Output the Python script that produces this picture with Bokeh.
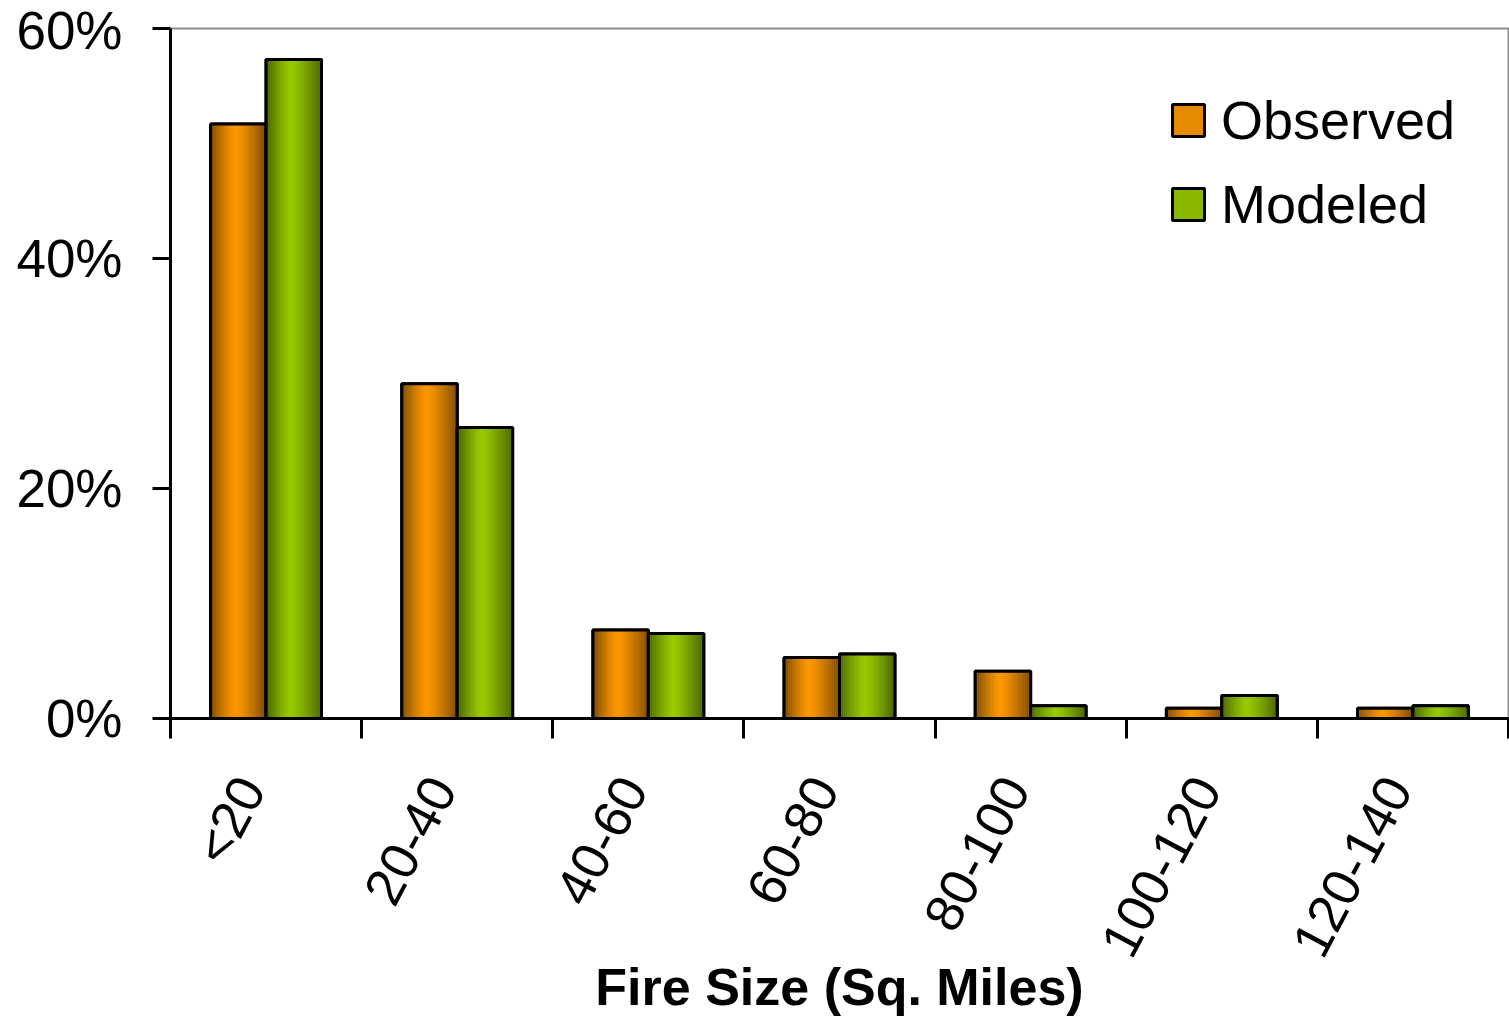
import math

from bokeh.embed import file_html
from bokeh.models import FixedTicker, Legend, LegendItem, PrintfTickFormatter, Range1d
from bokeh.plotting import figure
from bokeh.resources import INLINE

# Share of fires in each size class (percent)
categories = ["<20", "20-40", "40-60", "60-80", "80-100", "100-120", "120-140"]
observed = [51.7, 29.1, 7.7, 5.3, 4.1, 0.9, 0.9]
modeled = [57.3, 25.3, 7.4, 5.6, 1.1, 2.0, 1.1]
y_ticks = [0, 20, 40, 60]

FONT = "Liberation Sans"
BAR_W = 0.29
N_STRIPS = 28
ORANGE = (255, 153, 0)
GREEN = (153, 204, 0)
LABEL_SHIFT = -0.08  # nudges rotated category labels so their ends sit on the centre


def shade(rgb, f):
    return "#%02x%02x%02x" % tuple(max(0, min(255, int(round(c * f)))) for c in rgb)


def profile(t):
    """Brightness across a bar: dark edges, bright middle."""
    peak = 0.45
    d = (peak - t) / peak if t < peak else (t - peak) / (1 - peak)
    return 1 - 0.52 * d ** 1.25


p = figure(
    width=1509, height=1018,
    x_range=Range1d(-0.5, len(categories) - 0.5),
    y_range=Range1d(0, 60),
    output_backend="svg", toolbar_location=None,
    min_border_left=170, min_border_right=1,
    min_border_top=28, min_border_bottom=300,
)
p.background_fill_color = "white"
p.border_fill_color = "white"
p.outline_line_color = "#8c8c8c"
p.outline_line_width = 2
p.grid.visible = False


def draw_series(values, offset, rgb):
    centers = [i + offset for i in range(len(values))]
    base = p.vbar(x=centers, top=values, bottom=0, width=BAR_W,
                  fill_color=shade(rgb, 0.9), line_color="black", line_width=3)
    xs, tops, cols = [], [], []
    for c, v in zip(centers, values):
        for k in range(N_STRIPS):
            t = (k + 0.5) / N_STRIPS
            xs.append(c - BAR_W / 2 + t * BAR_W)
            tops.append(v)
            cols.append(shade(rgb, profile(t)))
    p.vbar(x=xs, top=tops, bottom=0, width=BAR_W / N_STRIPS * 1.08,
           fill_color=cols, line_color=None)
    p.vbar(x=centers, top=values, bottom=0, width=BAR_W,
           fill_alpha=0, line_color="black", line_width=3)
    return base


obs_r = draw_series(observed, -BAR_W / 2, ORANGE)
mod_r = draw_series(modeled, BAR_W / 2, GREEN)

# x axis: labels at category centres, ticks between categories
label_pos = [i + LABEL_SHIFT for i in range(len(categories))]
xa = p.xaxis[0]
xa.ticker = FixedTicker(ticks=label_pos,
                        minor_ticks=[i - 0.5 for i in range(len(categories) + 1)])
xa.major_label_overrides = {pos: c for pos, c in zip(label_pos, categories)}
xa.major_tick_out = 0
xa.major_tick_in = 0
xa.minor_tick_out = 20
xa.minor_tick_in = 0
xa.minor_tick_line_color = "black"
xa.minor_tick_line_width = 3
xa.axis_line_color = "black"
xa.axis_line_width = 3
xa.major_label_orientation = math.radians(62)
xa.major_label_text_font = FONT
xa.major_label_text_font_size = "53px"
xa.major_label_text_color = "black"
xa.major_label_standoff = 42
xa.axis_label = "Fire Size (Sq. Miles)"
xa.axis_label_text_font = FONT
xa.axis_label_text_font_size = "52px"
xa.axis_label_text_font_style = "bold"
xa.axis_label_text_color = "black"
xa.axis_label_standoff = -25

# y axis
ya = p.yaxis[0]
ya.ticker = FixedTicker(ticks=y_ticks)
ya.formatter = PrintfTickFormatter(format="%d%%")
ya.major_tick_out = 18
ya.major_tick_in = 0
ya.minor_tick_out = 0
ya.minor_tick_in = 0
ya.major_tick_line_color = "black"
ya.major_tick_line_width = 3
ya.axis_line_color = "black"
ya.axis_line_width = 3
ya.major_label_text_font = FONT
ya.major_label_text_font_size = "53px"
ya.major_label_text_color = "black"
ya.major_label_standoff = 30

legend = Legend(
    items=[LegendItem(label="Observed", renderers=[obs_r]),
           LegendItem(label="Modeled", renderers=[mod_r])],
    location=(998, 483), orientation="vertical",
    glyph_width=40, glyph_height=40, label_standoff=13, spacing=22,
    label_text_font=FONT, label_text_font_size="54px", label_text_color="black",
    padding=0, margin=0, border_line_alpha=0, background_fill_alpha=0,
)
p.add_layout(legend)

open("out.html", "w").write(file_html(p, INLINE))
